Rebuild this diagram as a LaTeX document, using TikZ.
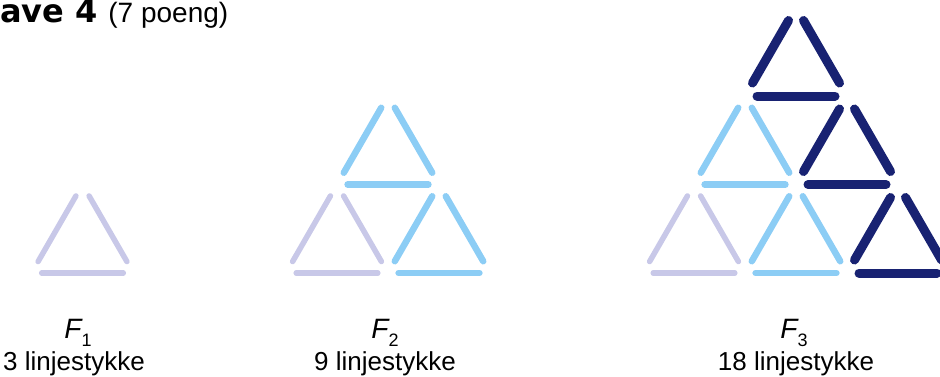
\documentclass[tikz,border=0pt]{standalone}
\usepackage{fontspec}
\setmainfont{Liberation Sans}
\newfontfamily\headfont{DejaVu Sans}
\usetikzlibrary{calc}
\definecolor{lavstick}{RGB}{200,200,232}
\definecolor{bluestick}{RGB}{140,205,245}
\definecolor{navystick}{RGB}{24,34,114}
\tikzset{
	lav/.style={draw=lavstick, line width=2.75pt, line cap=round, shorten <=6.6pt, shorten >=6.6pt},
	sky/.style={draw=bluestick, line width=3.25pt, line cap=round, shorten <=6.8pt, shorten >=6.8pt},
	navy/.style={draw=navystick, line width=4.5pt, line cap=round, shorten <=7.5pt, shorten >=7.5pt},
	txt/.style={inner sep=0pt, anchor=base}
}
% three sticks of one triangle, bottom-left corner at (#1,#2)
\newcommand{\sticktri}[3]{
	\draw[#3] ($(#1,#2)+(-3,0)$) -- +(108,0);
	\draw[#3] (#1,#2) -- +(51,-88.5);
	\draw[#3] ($(#1,#2)+(102,0)$) -- +(-51,-88.5);
}
\newcommand{\figlabel}[4]{
	\node[txt, font=\fontsize{14}{16}\selectfont] (f#1) at (#2,338) {\itshape F\raisebox{-0.55ex}{\fontsize{9}{10}\selectfont\upshape #1}};
	\node[txt, font=\fontsize{13}{15}\selectfont] (n#1) at (#3,370) {#4 linjestykke};
}

\begin{document}
\begin{tikzpicture}[x=0.5pt,y=-0.5pt]
	\useasboundingbox (0,0) rectangle (940,376);
	
	\node[inner sep=0pt, anchor=base west, font=\fontsize{16}{18}\headfont\bfseries] (title) at (0,22) {ave 4};
	\node[inner sep=0pt, anchor=base west, font=\fontsize{14}{16}\selectfont] (pts) at (108,22) {(7 poeng)};
	
	% F1
	\sticktri{31.5}{273}{lav}
	
	% F2
	\foreach \x/\y/\s in {286/273/lav, 337/184.5/sky, 388/273/sky}
		\sticktri{\x}{\y}{\s};
	
	% F3
	\foreach \x/\y/\s in {643/273/lav, 694/184.5/sky, 745/273/sky, 745/96/navy, 796/184.5/navy, 847/273/navy}
		\sticktri{\x}{\y}{\s};
	
	\figlabel{1}{78}{74}{3}
	\figlabel{2}{385}{385}{9}
	\figlabel{3}{794}{796}{18}
\end{tikzpicture}
\end{document}
